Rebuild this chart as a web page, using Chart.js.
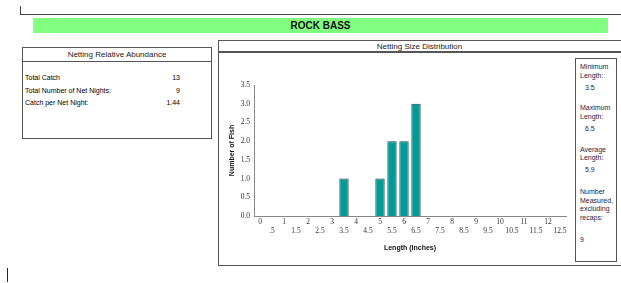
<!DOCTYPE html>
<html>
<head>
<meta charset="utf-8">
<script src="https://cdn.jsdelivr.net/npm/chart.js@4"></script>
<style>
  body { margin: 0; width: 621px; height: 283px; background: #fff; position: relative; overflow: hidden; font-family: "Liberation Sans", Arial, sans-serif; }
  .abs { position: absolute; }
  .box { position: absolute; border: 1.5px solid #555; box-sizing: border-box; }
  .lbl { position: absolute; font-size: 7px; color: #000; white-space: nowrap; line-height: 8px; }
  .side { position: absolute; font-size: 7px; color: #1e1e44; white-space: nowrap; line-height: 8px; }
</style>
</head>
<body>
<!-- top corner line -->
<div class="abs" style="left:20px;top:6px;width:1px;height:9px;background:#444"></div>
<div class="abs" style="left:20px;top:14px;width:601px;height:1px;background:#444"></div>

<!-- title bar -->
<div class="abs" style="left:33px;top:18px;width:575px;height:15px;background:#80ff80;text-align:center;font-weight:bold;font-size:10px;line-height:15px;color:#111">ROCK BASS</div>

<!-- left table -->
<div class="box" style="left:22px;top:47px;width:190px;height:92px"></div>
<div class="abs" style="left:22px;top:61px;width:190px;height:1px;background:#555"></div>
<div class="lbl" style="left:22px;top:51px;width:190px;text-align:center;font-size:8px;color:#222">Netting Relative Abundance</div>
<div class="lbl" style="left:25px;top:74px">Total Catch</div>
<div class="lbl" style="left:25px;top:87px">Total Number of Net Nights:</div>
<div class="lbl" style="left:25px;top:99px">Catch per Net Night:</div>
<div class="lbl" style="left:140px;top:74px;width:40px;text-align:right" id="v1"></div>
<div class="lbl" style="left:140px;top:87px;width:40px;text-align:right" id="v2"></div>
<div class="lbl" style="left:140px;top:99px;width:40px;text-align:right" id="v3"></div>

<!-- chart box -->
<div class="box" style="left:218px;top:40px;width:420px;height:226px"></div>
<div class="abs" style="left:218px;top:51px;width:403px;height:2px;background:#555"></div>
<div class="lbl" style="left:218px;top:43px;width:403px;text-align:center;font-size:8px;color:#222">Netting Size Distribution</div>

<div class="abs" style="left:219px;top:53px;width:355px;height:213px">
  <canvas id="chart"></canvas>
</div>

<!-- side panel -->
<div class="box" style="left:575px;top:58px;width:42px;height:204px;background:#fff"></div>
<div class="side" style="left:580px;top:63px">Minimum</div>
<div class="side" style="left:580px;top:72px">Length:</div>
<div class="side" style="left:585px;top:84px" id="s1"></div>
<div class="side" style="left:580px;top:104px">Maximum</div>
<div class="side" style="left:580px;top:113px">Length:</div>
<div class="side" style="left:585px;top:125px" id="s2"></div>
<div class="side" style="left:580px;top:146px">Average</div>
<div class="side" style="left:580px;top:154px">Length:</div>
<div class="side" style="left:585px;top:166px" id="s3"></div>
<div class="side" style="left:580px;top:188px">Number</div>
<div class="side" style="left:580px;top:197px">Measured,</div>
<div class="side" style="left:580px;top:205px">excluding</div>
<div class="side" style="left:580px;top:214px">recaps:</div>
<div class="side" style="left:580px;top:236px" id="s4"></div>

<!-- stray mark bottom left -->
<div class="abs" style="left:7px;top:268px;width:1px;height:14px;background:#222"></div>

<script>
// length classes (inches) and fish counts per class
const lengthBins = ['0', '.5', '1', '1.5', '2', '2.5', '3', '3.5', '4', '4.5', '5', '5.5', '6',
  '6.5', '7', '7.5', '8', '8.5', '9', '9.5', '10', '10.5', '11', '11.5', '12', '12.5'];
const fishCounts = [0, 0, 0, 0, 0, 0, 0, 1, 0, 0, 1, 2, 2, 3, 0, 0, 0, 0, 0, 0, 0, 0, 0, 0, 0, 0];
const yTicks = [0, 0.5, 1, 1.5, 2, 2.5, 3, 3.5];

const abundance = ['13', '9', '1.44'];
const sideStats = ['3.5', '6.5', '5.9', '9'];

document.getElementById('v1').textContent = abundance[0];
document.getElementById('v2').textContent = abundance[1];
document.getElementById('v3').textContent = abundance[2];
document.getElementById('s1').textContent = sideStats[0];
document.getElementById('s2').textContent = sideStats[1];
document.getElementById('s3').textContent = sideStats[2];
document.getElementById('s4').textContent = sideStats[3];

const tickFont = { family: 'Liberation Serif', size: 7.5 };

new Chart(document.getElementById('chart'), {
  type: 'bar',
  data: {
    labels: lengthBins,
    datasets: [{
      data: fishCounts,
      backgroundColor: '#009b96',
      borderColor: '#214a48',
      borderWidth: 1,
      barPercentage: 0.78,
      categoryPercentage: 1
    }]
  },
  options: {
    responsive: true,
    maintainAspectRatio: false,
    animation: false,
    layout: { padding: { top: 32, right: 8, left: 0, bottom: 0 } },
    plugins: { legend: { display: false }, tooltip: { enabled: false } },
    scales: {
      x: {
        grid: { display: false, drawTicks: false },
        border: { display: true, color: '#888', width: 1 },
        ticks: {
          autoSkip: false, maxRotation: 0, minRotation: 0, padding: 2,
          color: '#333', font: tickFont,
          callback: function (value, index) {
            const l = this.getLabelForValue(value);
            return index % 2 ? ['', l] : l;
          }
        },
        title: {
          display: true, text: 'Length (Inches)', color: '#111',
          font: { family: 'Liberation Sans', size: 7, weight: 'bold' },
          padding: { top: 0, bottom: 14 }
        },
        afterFit: s => { s.height = 50; }
      },
      y: {
        min: 0, max: 3.5,
        grid: { display: false, drawTicks: false },
        border: { display: true, color: '#888', width: 1 },
        afterBuildTicks: s => { s.ticks = yTicks.map(v => ({ value: v })); },
        ticks: {
          padding: 4, color: '#333', font: tickFont,
          callback: v => Number(v).toFixed(1)
        },
        title: {
          display: true, text: 'Number of Fish', color: '#111',
          font: { family: 'Liberation Sans', size: 7, weight: 'bold' },
          padding: { top: 9, bottom: 0 }
        },
        afterFit: s => { s.width = 35; }
      }
    }
  }
});
</script>
</body>
</html>
